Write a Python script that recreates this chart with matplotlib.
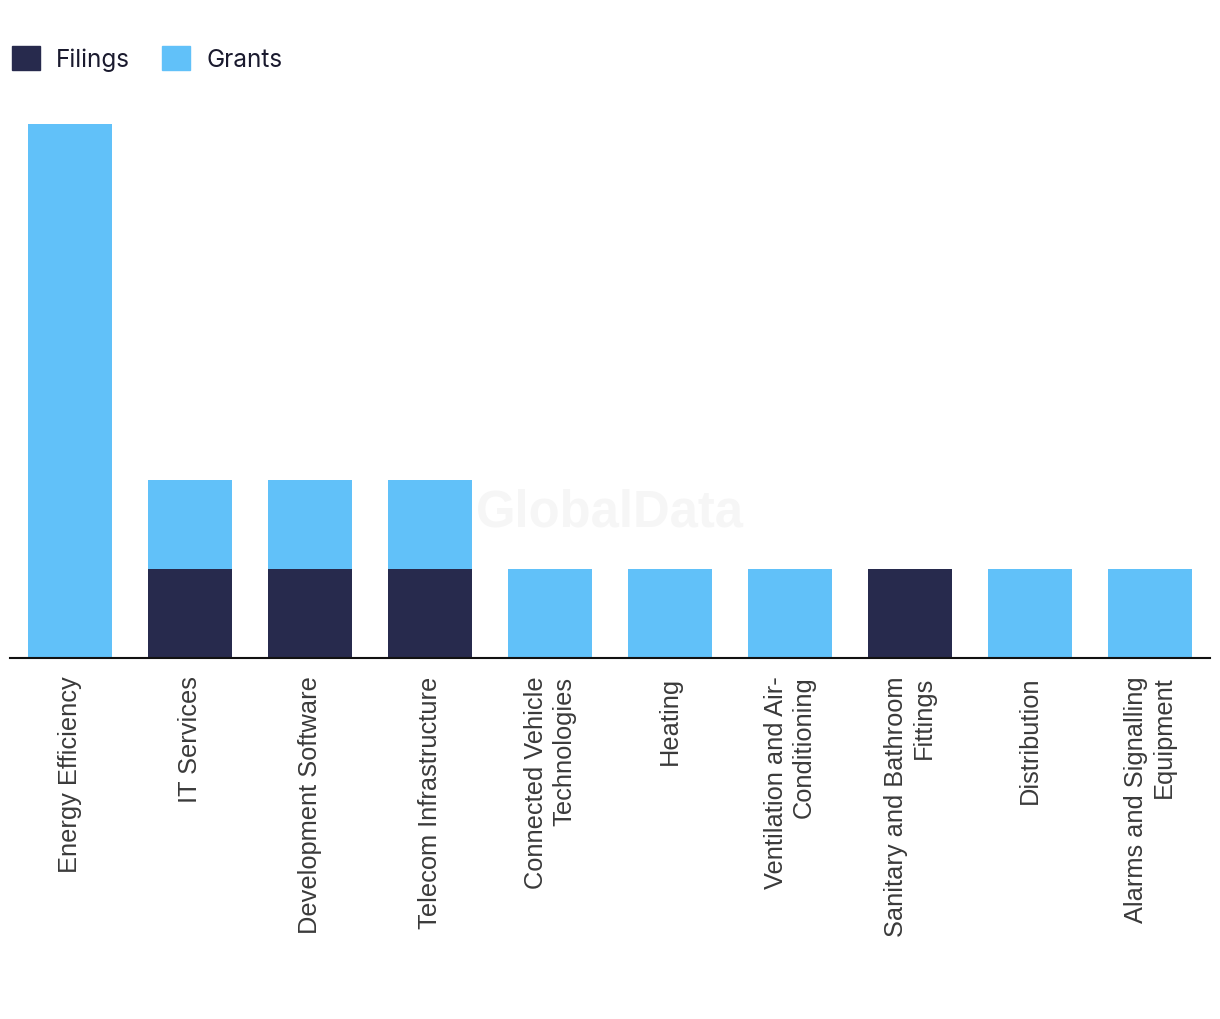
import matplotlib
matplotlib.use("Agg")
import matplotlib.pyplot as plt
from matplotlib.patches import Patch
import numpy as np

categories = [
    "Energy Efficiency",
    "IT Services",
    "Development Software",
    "Telecom Infrastructure",
    "Connected Vehicle\nTechnologies",
    "Heating",
    "Ventilation and Air-\nConditioning",
    "Sanitary and Bathroom\nFittings",
    "Distribution",
    "Alarms and Signalling\nEquipment",
]
filings = [0, 1, 1, 1, 0, 0, 0, 1, 0, 0]
grants = [6, 1, 1, 1, 1, 1, 1, 0, 1, 1]
series_names = ["Filings", "Grants"]

c_fil = "#272a4d"
c_gr = "#61c1f9"

fig = plt.figure(figsize=(12.2, 10.2), dpi=100)
W, H = 1220, 1020
ax = fig.add_axes([10 / W, 1 - 658.5 / H, 1200 / W, (658.5 - 124.5) / H])

x = np.arange(len(categories))
ax.bar(x, filings, width=0.7, color=c_fil, label=series_names[0])
ax.bar(x, grants, width=0.7, bottom=filings, color=c_gr, label=series_names[1])

ax.set_xlim(-0.5, len(categories) - 0.5)
ax.set_ylim(0, 6)
ax.set_yticks([])
for s in ["top", "right", "left"]:
    ax.spines[s].set_visible(False)
ax.spines["bottom"].set_color("#111111")
ax.spines["bottom"].set_linewidth(1.5)
ax.set_xticks(x)
ax.set_xticklabels(categories, rotation=90, ha="center", va="top",
                   multialignment="right", fontsize=18.3, color="#3a3a3a",
                   family="Liberation Sans", linespacing=1.22)
ax.tick_params(axis="x", length=0, pad=13)
for lbl in ax.get_xticklabels():
    lbl.set_x(lbl.get_position()[0])

fig.text(610 / W, 1 - 513 / H, "GlobalData", ha="center", va="center",
         fontsize=36.5, fontweight="bold", color="#f6f6f6", family="Liberation Sans",
         zorder=0)

handles = [Patch(color=c_fil), Patch(color=c_gr)]
fig.legend(handles, series_names, loc="upper left",
           bbox_to_anchor=(2 / W, 1 - 37 / H), ncol=2, frameon=False,
           handlelength=1.15, handleheight=1.15,
           handletextpad=0.65, columnspacing=1.35, borderaxespad=0,
           prop={"family": "Inter", "size": 17.5})
for t in fig.legends[0].get_texts():
    t.set_color("#1a1a2e")

fig.savefig("out.png", dpi=100, facecolor="white")
